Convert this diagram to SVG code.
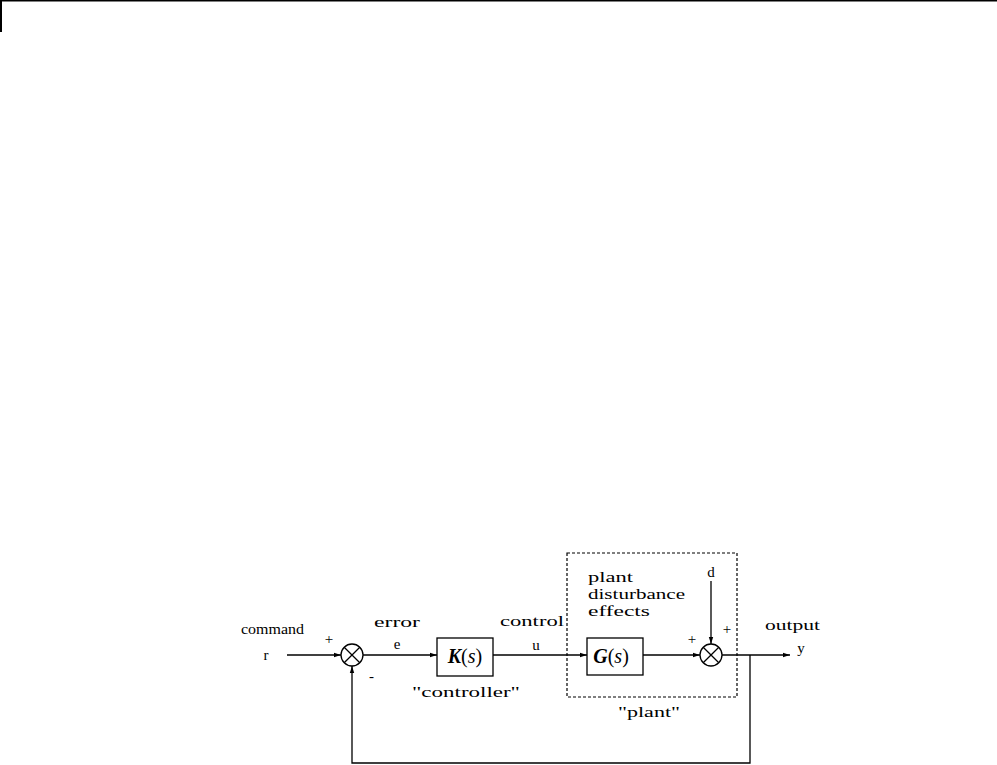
<svg xmlns="http://www.w3.org/2000/svg" width="997" height="765" viewBox="0 0 997 765">
<style>
.ln{stroke:#000;stroke-width:1.3;fill:none}
.box{stroke:#000;stroke-width:1.3;fill:#fff}
.t{font-family:"Liberation Serif","DejaVu Serif",serif;font-size:15px;fill:#000}
.s{font-family:"Liberation Serif","DejaVu Serif",serif;font-size:14px;fill:#000}
.m{font-family:"Liberation Serif","DejaVu Serif",serif;font-size:20px;fill:#000}
</style>
<defs>
<marker id="ah" markerUnits="userSpaceOnUse" markerWidth="8" markerHeight="6" refX="7" refY="3" orient="auto">
<path d="M0,0.8 L7,3 L0,5.2 Z" fill="#000"/>
</marker>
</defs>
<rect width="997" height="765" fill="#fff"/>
<g id="frame">
<line x1="0" y1="0.75" x2="997" y2="0.75" stroke="#000" stroke-width="1.5"/>
<line x1="1" y1="0" x2="1" y2="32" stroke="#000" stroke-width="2"/>
</g>
<g id="plant-box">
<rect x="567" y="553" width="170" height="144" fill="none" stroke="#000" stroke-width="1.2" stroke-dasharray="3,2"/>
<text class="t" x="618" y="717" textLength="62" lengthAdjust="spacingAndGlyphs">"plant"</text>
<text class="s" x="588" y="582" textLength="45" lengthAdjust="spacingAndGlyphs">plant</text>
<text class="s" x="588" y="599" textLength="97" lengthAdjust="spacingAndGlyphs">disturbance</text>
<text class="s" x="588" y="616" textLength="62" lengthAdjust="spacingAndGlyphs">effects</text>
</g>
<g id="sum1">
<circle class="box" cx="352" cy="655" r="11"/>
<path class="ln" d="M344.2,647.2 L359.8,662.8 M359.8,647.2 L344.2,662.8"/>
<text class="t" x="329" y="644" text-anchor="middle">+</text>
<text class="t" x="371.5" y="681" text-anchor="middle">-</text>
</g>
<g id="K">
<rect class="box" x="437" y="638" width="56" height="38"/>
<text class="m" x="465" y="663" text-anchor="middle"><tspan font-style="italic" font-weight="bold">K</tspan>(<tspan font-style="italic">s</tspan>)</text>
<text class="t" x="412" y="697" textLength="108" lengthAdjust="spacingAndGlyphs">"controller"</text>
</g>
<g id="G">
<rect class="box" x="587" y="638" width="56" height="37"/>
<text class="m" x="611" y="663" text-anchor="middle"><tspan font-style="italic" font-weight="bold">G</tspan>(<tspan font-style="italic">s</tspan>)</text>
</g>
<g id="sum2">
<circle class="box" cx="711" cy="655" r="11"/>
<path class="ln" d="M703.2,647.2 L718.8,662.8 M718.8,647.2 L703.2,662.8"/>
<text class="t" x="692" y="644" text-anchor="middle">+</text>
<text class="t" x="727" y="634" text-anchor="middle">+</text>
</g>
<g id="connectors">
<line class="ln" x1="287" y1="655" x2="341" y2="655" marker-end="url(#ah)"/>
<line class="ln" x1="363" y1="655" x2="437" y2="655" marker-end="url(#ah)"/>
<line class="ln" x1="493" y1="655" x2="587" y2="655" marker-end="url(#ah)"/>
<line class="ln" x1="643" y1="655" x2="700" y2="655" marker-end="url(#ah)"/>
<line class="ln" x1="722" y1="655" x2="790" y2="655" marker-end="url(#ah)"/>
<line class="ln" x1="711" y1="581" x2="711" y2="644" marker-end="url(#ah)"/>
<polyline class="ln" points="750,655 750,763 352,763 352,666" marker-end="url(#ah)"/>
</g>
<g id="labels">
<text class="t" x="241" y="634" textLength="63" lengthAdjust="spacingAndGlyphs">command</text>
<text class="t" x="266" y="660" text-anchor="middle">r</text>
<text class="t" x="374" y="627" textLength="46" lengthAdjust="spacingAndGlyphs">error</text>
<text class="t" x="397" y="649" text-anchor="middle">e</text>
<text class="t" x="500" y="626" textLength="64" lengthAdjust="spacingAndGlyphs">control</text>
<text class="t" x="536" y="650" text-anchor="middle">u</text>
<text class="t" x="711" y="577" text-anchor="middle">d</text>
<text class="t" x="765" y="630" textLength="55" lengthAdjust="spacingAndGlyphs">output</text>
<text class="t" x="801" y="653" text-anchor="middle">y</text>
</g>
</svg>
